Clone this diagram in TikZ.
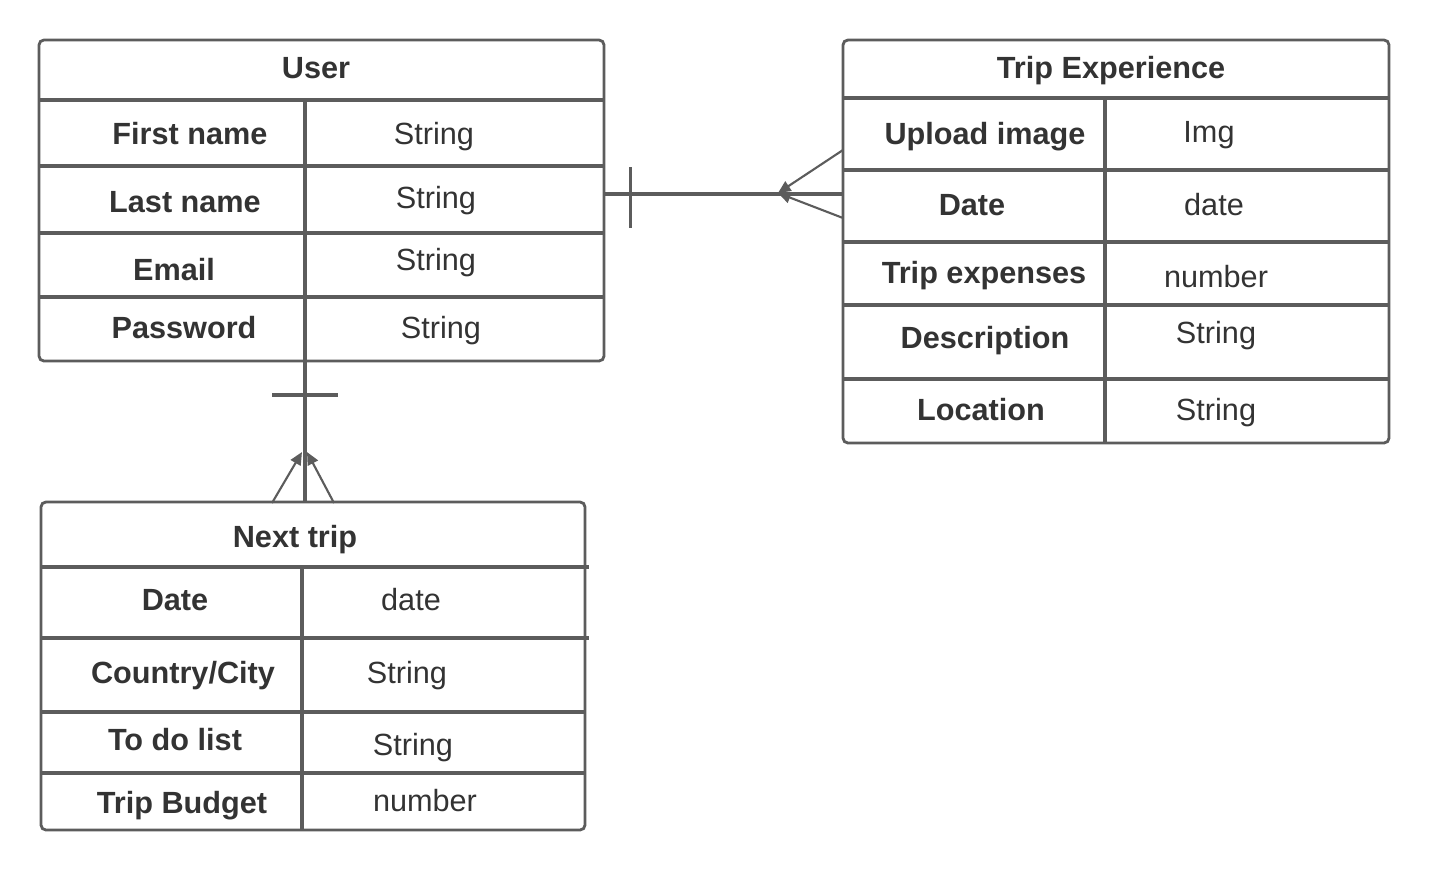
\documentclass[tikz,border=0pt]{standalone}
\usepackage{fontspec}
\setmainfont{Liberation Sans}
\usetikzlibrary{arrows.meta, fit, calc}
\definecolor{erline}{RGB}{92,92,92}
\definecolor{ertext}{RGB}{51,51,51}

\begin{document}
\begin{tikzpicture}[
  x=0.025cm, y=-0.025cm,
  >=Stealth,
  tablebox/.style={
    rectangle, rounded corners=3.5pt,
    draw=erline, line width=2pt,
    inner sep=0pt,
  },
  rowline/.style={draw=erline, line width=2.6pt},
  colline/.style={draw=erline, line width=2.2pt},
  cell/.style={text=ertext, inner sep=0pt, text height=15.7pt, text depth=0pt},
  title/.style={cell, font=\fontsize{21.8}{26}\selectfont\bfseries},
  keytext/.style={cell, font=\fontsize{21.8}{26}\selectfont\bfseries},
  valtext/.style={cell, font=\fontsize{21.8}{26}\selectfont},
  link/.style={draw=erline, line width=3pt},
  onebar/.style={draw=erline, line width=2.6pt},
  crow/.style={draw=erline, line width=1.5pt, -{Triangle[length=9pt, width=8pt]}},
]
\useasboundingbox (0,0) rectangle (1432,877);

% ── User table ───────────────────────────────────────────────────────────────
\node[tablebox, fit={(39,40)(604,361)}] (user) {};
\draw[rowline] (39,100) -- (604,100);
\draw[rowline] (39,166) -- (604,166);
\draw[rowline] (39,233) -- (604,233);
\draw[rowline] (39,297) -- (604,297);
\draw[colline] (305,100) -- (305,361);

\node[title] (userTitle) at (316,67) {User};
\node[keytext] (userFirst) at (190,133) {First name};
\node[valtext] (userFirstT) at (434,133) {String};
\node[keytext] (userLast) at (185,201) {Last name};
\node[valtext] (userLastT) at (436,197) {String};
\node[keytext] (userEmail) at (174,269) {Email};
\node[valtext] (userEmailT) at (436,259) {String};
\node[keytext] (userPass) at (184,327) {Password};
\node[valtext] (userPassT) at (441,327) {String};

% ── Trip Experience table ────────────────────────────────────────────────────
\node[tablebox, fit={(843,40)(1389,443)}] (tripExp) {};
\draw[rowline] (843,98) -- (1390,98);
\draw[rowline] (843,170) -- (1390,170);
\draw[rowline] (843,242) -- (1389,242);
\draw[rowline] (843,305) -- (1389,305);
\draw[rowline] (843,379) -- (1390,379);
\draw[colline] (1105,98) -- (1105,443);

\node[title] (expTitle) at (1111,67) {Trip Experience};
\node[keytext] (expImage) at (985,133) {Upload image};
\node[valtext] (expImageT) at (1209,131) {Img};
\node[keytext] (expDate) at (972,204) {Date};
\node[valtext] (expDateT) at (1214,204) {date};
\node[keytext] (expCost) at (984,272) {Trip expenses};
\node[valtext] (expCostT) at (1216,276) {number};
\node[keytext] (expDesc) at (985,337) {Description};
\node[valtext] (expDescT) at (1216,332) {String};
\node[keytext] (expLoc) at (981,409) {Location};
\node[valtext] (expLocT) at (1216,409) {String};

% ── Next trip table ──────────────────────────────────────────────────────────
\node[tablebox, fit={(41,502)(585,830)}] (nextTrip) {};
\draw[rowline] (41,567) -- (589,567);
\draw[rowline] (41,638) -- (589,638);
\draw[rowline] (41,712) -- (585,712);
\draw[rowline] (41,773) -- (585,773);
\draw[colline] (302,567) -- (302,830);

\node[title] (nextTitle) at (295,536) {Next trip};
\node[keytext] (nextDate) at (175,599) {Date};
\node[valtext] (nextDateT) at (411,599) {date};
\node[keytext] (nextPlace) at (183,672) {Country/City};
\node[valtext] (nextPlaceT) at (407,672) {String};
\node[keytext] (nextTodo) at (175,739) {To do list};
\node[valtext] (nextTodoT) at (413,744) {String};
\node[keytext] (nextBudget) at (182,802) {Trip Budget};
\node[valtext] (nextBudgetT) at (425,800) {number};

% ── User -- Trip Experience (one to many)
\coordinate (userRight) at (user.east |- 0,194);
\coordinate (expLeft) at (tripExp.west |- 0,194);
\coordinate (expFoot) at (778,193);
\draw[link] (userRight) -- (expLeft);
\draw[onebar] ($(userRight)+(25,-27)$) -- ++(0,61);
\draw[crow] (843,150) -- (expFoot);
\draw[crow] (843,218) -- (expFoot);

% ── User -- Next trip (one to many)
\coordinate (userBottom) at (user.south -| 305,0);
\coordinate (nextTop) at (nextTrip.north -| 305,0);
\draw[link, line width=2.4pt] (userBottom) -- (nextTop);
\draw[onebar] (272,395) -- (338,395);
\draw[crow] (272,503) -- (302,452);
\draw[crow] (334,503) -- (307,452);

\end{tikzpicture}
\end{document}
